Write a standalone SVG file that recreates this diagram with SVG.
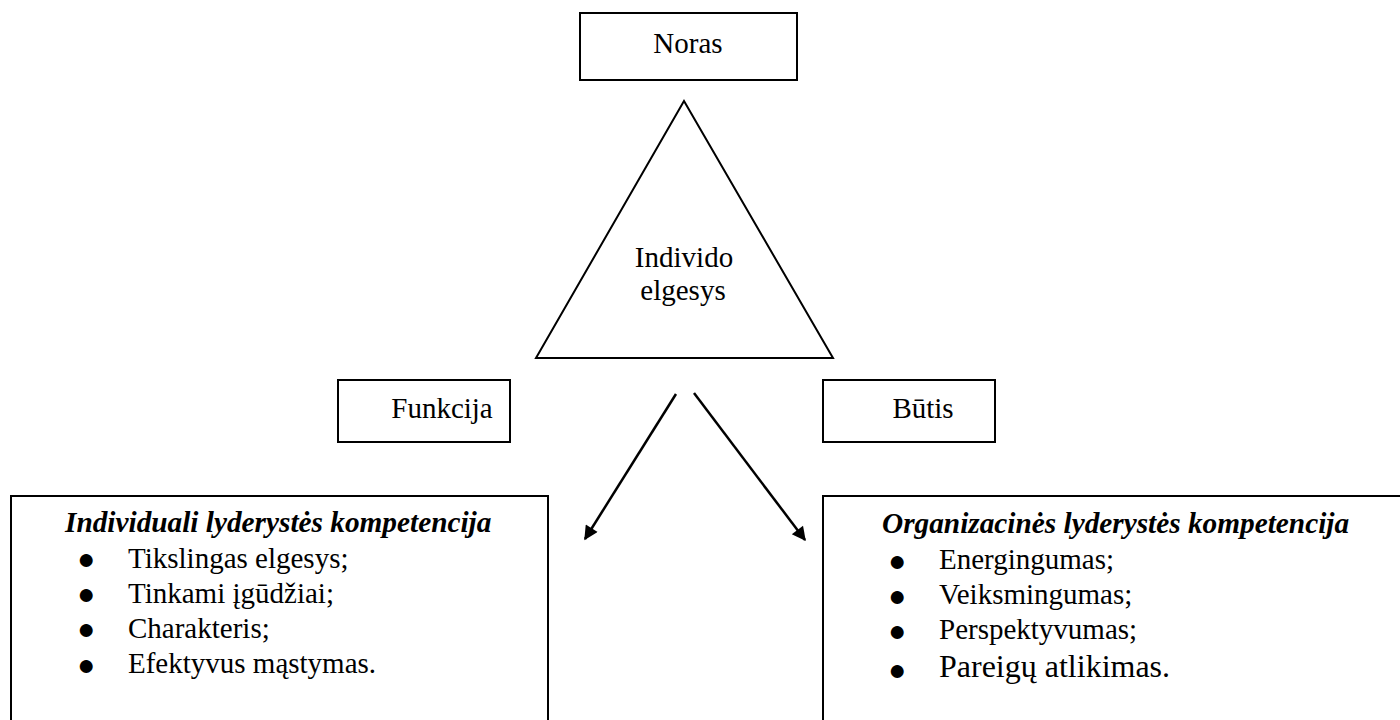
<svg xmlns="http://www.w3.org/2000/svg" width="1400" height="720" viewBox="0 0 1400 720">
<style>
.box{fill:#fff;stroke:#000;stroke-width:2}
.t{font-family:"Liberation Serif","Times New Roman",serif;font-size:29px;fill:#000}
.h{font-family:"Liberation Serif","Times New Roman",serif;font-size:29.3px;font-weight:bold;font-style:italic;fill:#000}
.b{font-family:"Liberation Serif","Times New Roman",serif;font-size:30px;fill:#000;text-anchor:middle}
.c{text-anchor:middle}
.conn{stroke:#000;stroke-width:2.5;fill:none}
</style>
<defs>
<marker id="ah" viewBox="0 0 10 10" refX="9" refY="5" markerWidth="6.4" markerHeight="5.6" orient="auto" markerUnits="strokeWidth">
<path d="M0,0 L10,5 L0,10 Z" fill="#000"/>
</marker>
</defs>
<rect width="1400" height="720" fill="#fff"/>
<g id="noras">
<rect class="box" x="580" y="13" width="217" height="67"/>
<text class="t c" x="688" y="53">Noras</text>
</g>
<g id="individo-elgesys">
<polygon class="box" points="684,101 833,358 536,358"/>
<text class="t c" x="684" y="267">Individo</text>
<text class="t c" x="683" y="300">elgesys</text>
</g>
<g id="funkcija">
<rect class="box" x="338" y="380" width="172" height="62"/>
<text class="t c" x="442" y="418">Funkcija</text>
</g>
<g id="butis">
<rect class="box" x="823" y="380" width="172" height="62"/>
<text class="t c" x="923" y="418">Būtis</text>
</g>
<g id="individuali">
<rect class="box" x="11" y="496" width="537" height="240"/>
<text class="h" x="65" y="532">Individuali lyderystės kompetencija</text>
<text class="b" x="86" y="569">●</text>
<text class="t" x="128" y="568">Tikslingas elgesys;</text>
<text class="b" x="86" y="604">●</text>
<text class="t" x="128" y="603">Tinkami įgūdžiai;</text>
<text class="b" x="86" y="639">●</text>
<text class="t" x="128" y="638">Charakteris;</text>
<text class="b" x="86" y="675">●</text>
<text class="t" x="128" y="673">Efektyvus mąstymas.</text>
</g>
<g id="organizacines">
<rect class="box" x="823" y="496" width="600" height="240"/>
<text class="h" x="882" y="533">Organizacinės lyderystės kompetencija</text>
<text class="b" x="897" y="571">●</text>
<text class="t" x="939" y="569">Energingumas;</text>
<text class="b" x="897" y="606">●</text>
<text class="t" x="939" y="604">Veiksmingumas;</text>
<text class="b" x="897" y="641">●</text>
<text class="t" x="939" y="639">Perspektyvumas;</text>
<text class="b" x="897" y="680">●</text>
<text class="t" x="939" y="677" style="font-size:32px">Pareigų atlikimas.</text>
</g>
<g id="connectors">
<line class="conn" x1="676" y1="394" x2="585" y2="539" marker-end="url(#ah)"/>
<line class="conn" x1="694" y1="393" x2="805" y2="540" marker-end="url(#ah)"/>
</g>
</svg>
